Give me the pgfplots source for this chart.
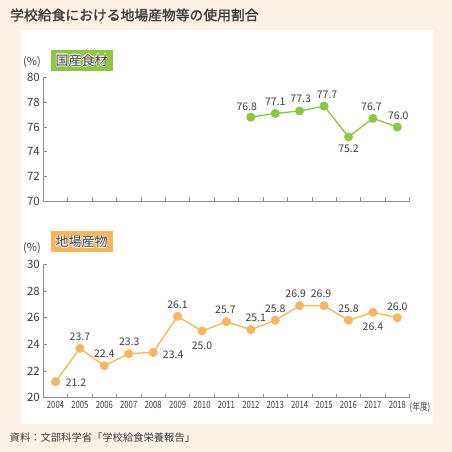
\documentclass[border=0pt]{standalone}
\usepackage{pgfplots}
\usepackage{pgfplotstable}
\pgfplotsset{compat=1.18}
\usepackage{fontspec}
\setmainfont{Noto Sans CJK JP}
\newfontfamily\condfont[FakeStretch=0.77]{Noto Sans CJK JP}
\newfontfamily\titlefont[FakeBold=1.3]{Noto Sans CJK JP}

\definecolor{cream}{HTML}{FCF1E6}
\definecolor{lgreen}{HTML}{8DC63F}
\definecolor{lorange}{HTML}{F8B65A}
\definecolor{txt}{HTML}{3C3C3C}
\definecolor{axgray}{HTML}{8C8C8C}

% x: 0 = 2004 ... 14 = 2018; dx, dy = label offset
\pgfplotstableread{
x y dx dy
8 76.8 -4 10.6
9 77.1 0 12
10 77.3 1 12
11 77.7 3 10.8
12 75.2 0 -12
13 76.7 -1.5 11.6
14 76.0 1 10.8
}\kokusan

\pgfplotstableread{
x y dx dy
0 21.2 20.5 -1
1 23.7 0 11.8
2 22.4 0 11.9
3 23.3 0.5 11.8
4 23.4 20 -2.7
5 26.1 0 11.9
6 25.0 0 -14.6
7 25.7 -1 11.5
8 25.1 5 11.5
9 25.8 0 11.5
10 26.9 -4 11.9
11 26.9 -3 11.9
12 25.8 0 11.5
13 26.4 0 -14
14 26.0 0 10.5
}\jiba

\pgfplotsset{
  panel/.style={
    scale only axis, width=366.2pt,
    xmin=-0.5, xmax=14.5, enlargelimits=false,
    axis x line=bottom, axis y line=left,
    axis line style={-, draw=axgray, line width=0.6pt},
    xtick={0,...,14}, major x tick style={draw=none},
    minor xtick={0.5,1.5,...,14.5},
    tick align=inside, major tick length=4pt, minor tick length=4pt,
    tick style={draw=axgray, line width=0.6pt},
    ytick distance=2,
    yticklabel style={font=\fontsize{11.5}{11.5}\selectfont, text=txt},
    /pgf/number format/assume math mode=true,
    clip=false,
  },
  series/.style={
    color=#1, line width=1.3pt, mark=*, mark size=4.2pt,
    mark options={fill=#1, draw=#1, line width=0.5pt},
    visualization depends on={\thisrow{dx}\as\ldx},
    visualization depends on={\thisrow{dy}\as\ldy},
    nodes near coords={\pgfmathprintnumber[fixed,fixed zerofill,precision=1,assume math mode=true]{\pgfplotspointmeta}},
    every node near coord/.append style={anchor=center, xshift=\ldx pt, yshift=\ldy pt,
      inner sep=0pt, font=\fontsize{10.5}{10.5}\selectfont, text=txt},
  },
}

\newcommand\badge[4]{% x y colour text
  \fill[#3] (#1-31,#2-10.5) rectangle (#1+31,#2+10.5);
  \foreach \hx/\hy in {0.6/0,-0.6/0,0/0.6,0/-0.6,0.45/0.45,-0.45/0.45,0.45/-0.45,-0.45/-0.45}
    \node[text=white, inner sep=0pt, font=\fontsize{13}{13}\selectfont] at (#1+\hx,#2+\hy) {#4};
  \node[text=txt, inner sep=0pt, font=\fontsize{13}{13}\selectfont] at (#1,#2) {#4};
}

\begin{document}
\begin{tikzpicture}[x=1pt,y=1pt]
\fill[cream] (0,0) rectangle (452,452);
\fill[white] (20.5,28) rectangle (432.5,422);

\node[anchor=west, inner sep=0pt, text=txt, font=\titlefont\fontsize{13.8}{13.8}\selectfont] at (10,437) {学校給食における地場産物等の使用割合};
\node[anchor=west, inner sep=0pt, text=txt, font=\fontsize{10.3}{10.3}\selectfont] at (9.5,14) {資料：文部科学省「学校給食栄養報告」};

\node[text=txt, inner sep=0pt, font=\fontsize{11}{11}\selectfont] at (32,390) {(\%)};
\node[text=txt, inner sep=0pt, font=\fontsize{11}{11}\selectfont] at (32,203.7) {(\%)};

\begin{axis}[panel, at={(43.3pt,251pt)}, anchor=south west, height=123.3pt,
  ymin=70, ymax=80, xticklabels={}]
\addplot[series=lgreen] table[x=x, y=y] {\kokusan};
\end{axis}

\begin{axis}[panel, at={(43.3pt,54.3pt)}, anchor=south west, height=133.4pt,
  ymin=20, ymax=30,
  xticklabels={2004,2005,2006,2007,2008,2009,2010,2011,2012,2013,2014,2015,2016,2017,2018},
  xticklabel style={font=\condfont\fontsize{10}{10}\selectfont, text=txt}]
\addplot[series=lorange] table[x=x, y=y] {\jiba};
\end{axis}

\node[anchor=west, inner sep=0pt, text=txt, font=\condfont\fontsize{10}{10}\selectfont] at (409.5,44.5) {(年度)};

\badge{81.5}{391.5}{lgreen}{国産食材}
\badge{81.5}{210}{lorange}{地場産物}
\end{tikzpicture}
\end{document}
